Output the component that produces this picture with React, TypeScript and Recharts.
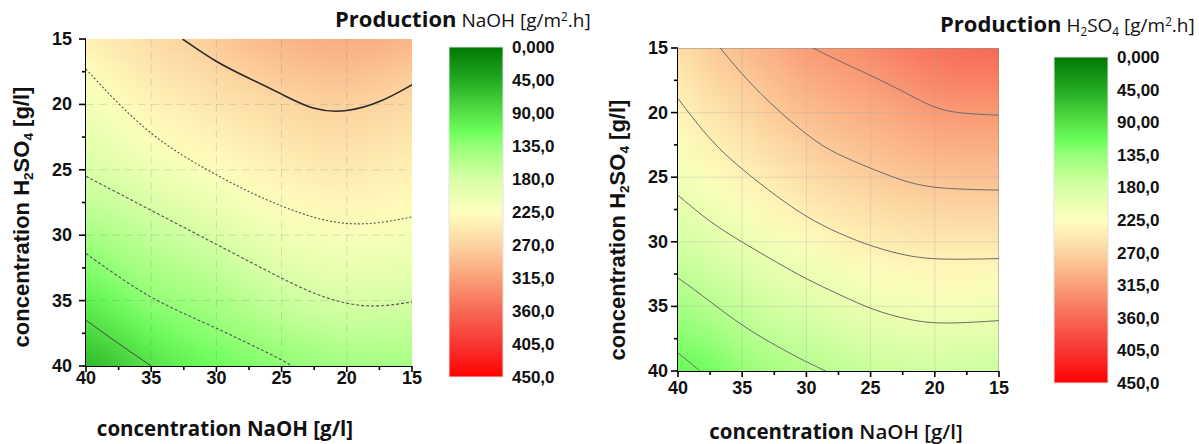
import React from "react";
import { ComposedChart, Scatter, Bar, XAxis, YAxis } from "recharts";

// grid nodes of the response surface (NaOH runs 40 -> 15 left to right)
const NAOH_NODES = [40, 37.5, 35, 32.5, 30, 27.5, 25, 22.5, 20, 17.5, 15];
const H2SO4_NODES = [15, 17.5, 20, 22.5, 25, 27.5, 30, 32.5, 35, 37.5, 40];
const AXIS_TICKS = [15, 17.5, 20, 22.5, 25, 27.5, 30, 32.5, 35, 37.5, 40];
const GRID_LINES = [20, 25, 30, 35];
const SCALE_TICKS = [0, 45, 90, 135, 180, 225, 270, 315, 360, 405, 450];
const SCALE_SPAN = [{ name: "scale", top: 450 }];

// colour scale (value -> colour)
const SCALE_STOPS = [0, 45, 90, 115, 135, 180, 225, 270, 315, 360, 405, 450];
const SCALE_COLORS = [
  "#007800", "#23aa23", "#55e146", "#69ff5a", "#96ff78", "#d7ffa5",
  "#ffffbe", "#fcd4a0", "#faa078", "#f86955", "#f83732", "#ff0000",
];

// NaOH production, one row per H2SO4 node (15 -> 40)
const naohRows = [
  [242, 251, 262, 270, 279, 290, 298, 304, 306, 305, 298],
  [223, 238, 250, 258, 267, 275, 282, 287, 289, 285, 278],
  [210, 224, 238, 245, 252, 259, 265, 271, 273, 269, 263],
  [196, 208, 224, 232, 239, 246, 253, 259, 261, 256, 252],
  [183, 192, 205, 216, 225, 233, 240, 246, 248, 244, 241],
  [166, 174, 185, 195, 205, 217, 227, 232, 235, 232, 230],
  [146, 156, 166, 175, 184, 197, 209, 215, 219, 217, 215],
  [125, 139, 150, 158, 166, 178, 191, 197, 201, 200, 198],
  [103, 118, 134, 141, 149, 160, 172, 179, 184, 182, 181],
  [80, 96, 112, 124, 132, 141, 152, 158, 165, 163, 163],
  [55, 70, 90, 103, 115, 124, 131, 138, 145, 146, 146],
];

// H2SO4 production
const h2so4Rows = [
  [258, 277, 292, 303, 319, 325, 334, 344, 353, 358, 360],
  [246, 265, 278, 291, 304, 312, 319, 328, 337, 341, 342],
  [234, 252, 264, 279, 290, 298, 304, 311, 319, 321, 321],
  [221, 240, 250, 264, 275, 284, 290, 297, 302, 304, 304],
  [207, 223, 236, 248, 260, 269, 276, 282, 286, 287, 287],
  [193, 206, 218, 232, 245, 253, 259, 265, 268, 269, 269],
  [177, 190, 201, 212, 226, 236, 243, 248, 250, 250, 250],
  [162, 174, 185, 194, 204, 213, 223, 229, 231, 231, 230],
  [145, 157, 168, 179, 187, 194, 204, 209, 211, 211, 209],
  [128, 137, 152, 164, 171, 178, 186, 191, 193, 192, 191],
  [110, 118, 134, 147, 155, 163, 170, 174, 176, 175, 173],
];

// contour lines, NaOH panel
const naoh270 = [
  { x: 32.6, y: 15 }, { x: 30, y: 16.8 }, { x: 27.5, y: 18.0 }, { x: 25, y: 19.2 },
  { x: 22.5, y: 20.5 }, { x: 20, y: 20.6 }, { x: 17.5, y: 19.9 }, { x: 15, y: 18.5 },
];
const naoh225 = [
  { x: 40, y: 17.3 }, { x: 37.5, y: 20.0 }, { x: 35, y: 22.3 }, { x: 32.5, y: 24.0 },
  { x: 30, y: 25.4 }, { x: 27.5, y: 26.7 }, { x: 25, y: 27.8 }, { x: 22.5, y: 28.7 },
  { x: 20, y: 29.2 }, { x: 17.5, y: 29.1 }, { x: 15, y: 28.6 },
];
const naoh180 = [
  { x: 40, y: 25.5 }, { x: 37.5, y: 26.8 }, { x: 35, y: 28.1 }, { x: 32.5, y: 29.4 },
  { x: 30, y: 30.7 }, { x: 27.5, y: 32.0 }, { x: 25, y: 33.3 }, { x: 22.5, y: 34.5 },
  { x: 20, y: 35.3 }, { x: 17.5, y: 35.5 }, { x: 15, y: 35.1 },
];
const naoh135 = [
  { x: 40, y: 31.4 }, { x: 37.5, y: 33.2 }, { x: 35, y: 34.8 }, { x: 32.5, y: 36.0 },
  { x: 30, y: 37.1 }, { x: 27.5, y: 38.3 }, { x: 25, y: 39.5 }, { x: 24.2, y: 40 },
];
const naoh90 = [{ x: 40, y: 36.5 }, { x: 37.5, y: 38.3 }, { x: 35, y: 40 }];

// contour lines, H2SO4 panel
const acid320 = [
  { x: 29.5, y: 15 }, { x: 27.9, y: 15.8 }, { x: 24.8, y: 17.2 }, { x: 22.2, y: 18.5 },
  { x: 19.8, y: 19.8 }, { x: 17.5, y: 20.1 }, { x: 15, y: 20.2 },
];
const acid280 = [
  { x: 36.7, y: 15 }, { x: 34.9, y: 17.2 }, { x: 32.3, y: 19.8 }, { x: 29.5, y: 22.1 },
  { x: 27.9, y: 23.1 }, { x: 24.8, y: 24.4 }, { x: 22.2, y: 25.4 }, { x: 19.8, y: 25.9 },
  { x: 15, y: 26.0 },
];
const acid240 = [
  { x: 40, y: 18.9 }, { x: 37.5, y: 22.2 }, { x: 34.9, y: 24.5 }, { x: 32.3, y: 26.5 },
  { x: 30, y: 28.1 }, { x: 27.4, y: 29.4 }, { x: 24.8, y: 30.4 }, { x: 22.2, y: 31.1 },
  { x: 19.8, y: 31.4 }, { x: 15, y: 31.3 },
];
const acid200 = [
  { x: 40, y: 26.4 }, { x: 37.5, y: 28.5 }, { x: 34.9, y: 30.1 }, { x: 32.3, y: 31.6 },
  { x: 30, y: 32.9 }, { x: 27.4, y: 34.1 }, { x: 24.8, y: 35.3 }, { x: 22.2, y: 36.0 },
  { x: 19.8, y: 36.4 }, { x: 15, y: 36.1 },
];
const acid160 = [
  { x: 40, y: 32.8 }, { x: 38.3, y: 34.0 }, { x: 35.2, y: 36.4 }, { x: 32.3, y: 38.1 },
  { x: 30, y: 39.3 }, { x: 28.5, y: 40 },
];
const acid120 = [{ x: 40, y: 38.6 }, { x: 39.0, y: 39.4 }, { x: 38.3, y: 40 }];

type Pt = { x: number; y: number };
type Contour = { points: Pt[]; stroke: string; width: number; dash?: string };

const naohContours: Contour[] = [
  { points: naoh270, stroke: "#2a2a2a", width: 1.6 },
  { points: naoh225, stroke: "#555", width: 1.1, dash: "2 2" },
  { points: naoh180, stroke: "#555", width: 1.1, dash: "3 2" },
  { points: naoh135, stroke: "#555", width: 1.1, dash: "3 2" },
  { points: naoh90, stroke: "#444", width: 1 },
];
const acidContours: Contour[] = [acid320, acid280, acid240, acid200, acid160, acid120].map(
  (points) => ({ points, stroke: "#6a6a6a", width: 1 })
);

const hexRgb = (h: string) => [1, 3, 5].map((i) => parseInt(h.slice(i, i + 2), 16));

function valueColor(v: number) {
  let i = 0;
  while (i < SCALE_STOPS.length - 2 && v > SCALE_STOPS[i + 1]) i++;
  const t = Math.max(0, Math.min(1, (v - SCALE_STOPS[i]) / (SCALE_STOPS[i + 1] - SCALE_STOPS[i])));
  const a = hexRgb(SCALE_COLORS[i]);
  const b = hexRgb(SCALE_COLORS[i + 1]);
  const c = a.map((ch, k) => Math.round(ch + (b[k] - ch) * t));
  return `rgb(${c[0]},${c[1]},${c[2]})`;
}

const toCells = (rows: number[][]) =>
  rows.flatMap((row, i) => row.map((z, j) => ({ x: NAOH_NODES[j], y: H2SO4_NODES[i], z })));

const noMark = () => <g />;

const TICK_FONT = "Arial, 'Liberation Sans', sans-serif";
const Y_AXIS_W = 50;
const X_AXIS_H = 40;
const W = 440;
const H = 444;

interface PanelProps {
  id: string;
  rows: number[][];
  contours: Contour[];
  left: number;
  margin: { top: number; right: number; bottom: number; left: number };
  yLabelGap: number;
  xLabelDrop: number;
  gridStroke: string;
  gridDash?: string;
  frame?: boolean;
}

function ContourPanel({ id, rows, contours, left, margin, yLabelGap, xLabelDrop, gridStroke, gridDash, frame }: PanelProps) {
  const px = margin.left + Y_AXIS_W;
  const py = margin.top;
  const pw = W - px - margin.right;
  const ph = H - py - margin.bottom - X_AXIS_H;
  const cw = pw / (NAOH_NODES.length - 1);
  const ch = ph / (H2SO4_NODES.length - 1);

  const cell = (p: any) => (
    <rect
      x={p.cx - cw / 2 - 0.5}
      y={p.cy - ch / 2 - 0.5}
      width={cw + 1}
      height={ch + 1}
      fill={valueColor(p.payload.z)}
    />
  );

  const yTick = (p: any) => {
    const v = p.payload.value;
    const major = v % 5 === 0;
    return (
      <g>
        <line x1={p.x - (major ? 7 : 4)} x2={p.x} y1={p.y} y2={p.y} stroke="#000" strokeWidth={1.6} />
        {major && (
          <text x={p.x - yLabelGap} y={p.y} textAnchor="end" dominantBaseline="central"
            fontFamily={TICK_FONT} fontWeight="bold" fontSize={18} fill="#111">{v}</text>
        )}
      </g>
    );
  };

  const xTick = (p: any) => {
    const v = p.payload.value;
    const major = v % 5 === 0;
    return (
      <g>
        <line x1={p.x} x2={p.x} y1={p.y} y2={p.y + (major ? 6 : 4)} stroke="#000" strokeWidth={1.6} />
        {major && (
          <text x={p.x} y={p.y + xLabelDrop} textAnchor="middle"
            fontFamily={TICK_FONT} fontWeight="bold" fontSize={18} fill="#111">{v}</text>
        )}
      </g>
    );
  };

  // straight guide lines through the data scales
  const guides: { pts: Pt[]; stroke: string; dash?: string }[] = [
    ...GRID_LINES.map((g) => ({ pts: [{ x: 40, y: g }, { x: 15, y: g }], stroke: gridStroke, dash: gridDash })),
    ...GRID_LINES.map((g) => ({ pts: [{ x: g, y: 15 }, { x: g, y: 40 }], stroke: gridStroke, dash: gridDash })),
  ];
  if (frame) {
    guides.push({ pts: [{ x: 40, y: 15 }, { x: 15, y: 15 }], stroke: "#8a8a8a" });
    guides.push({ pts: [{ x: 15, y: 15 }, { x: 15, y: 40 }], stroke: "#8a8a8a" });
  }

  return (
    <div style={{ position: "absolute", left, top: 0 }}>
      <style>{`.heat-${id} { filter: url(#smooth-${id}); }`}</style>
      <ComposedChart width={W} height={H} margin={margin}>
        <defs>
          <filter id={`smooth-${id}`} filterUnits="userSpaceOnUse" x={px} y={py} width={pw} height={ph}
            colorInterpolationFilters="sRGB">
            <feGaussianBlur stdDeviation={cw * 0.42} />
            <feComponentTransfer>
              <feFuncA type="linear" slope={0} intercept={1} />
            </feComponentTransfer>
          </filter>
        </defs>
        <XAxis type="number" dataKey="x" domain={[15, 40]} reversed allowDataOverflow
          ticks={AXIS_TICKS} interval={0} height={X_AXIS_H} tickSize={0} tickMargin={0}
          tickLine={false} axisLine={{ stroke: "#000", strokeWidth: 2 }} tick={xTick} />
        <YAxis type="number" dataKey="y" domain={[15, 40]} reversed allowDataOverflow
          ticks={AXIS_TICKS} interval={0} width={Y_AXIS_W} tickSize={0} tickMargin={0}
          tickLine={false} axisLine={{ stroke: "#000", strokeWidth: 2 }} tick={yTick} />
        <Scatter className={`heat-${id}`} data={toCells(rows)} shape={cell} isAnimationActive={false} />
        {guides.map((g, i) => (
          <Scatter key={`g${i}`} data={g.pts} shape={noMark} fill="none"
            line={{ stroke: g.stroke, strokeWidth: 1, strokeDasharray: g.dash }}
            isAnimationActive={false} />
        ))}
        {contours.map((c, i) => (
          <Scatter key={`c${i}`} data={c.points} shape={noMark} fill="none" lineJointType="basis"
            line={{ stroke: c.stroke, strokeWidth: c.width, strokeDasharray: c.dash }}
            isAnimationActive={false} />
        ))}
      </ComposedChart>
    </div>
  );
}

const scaleLabel = (v: number) => v.toPrecision(4).replace(".", ",");

function ColorScale({ id, left, top, bottom, barLeft, width }: { id: string; left: number; top: number; bottom: number; barLeft: number; width: number }) {
  const barW = 54;
  const axisW = 95;
  return (
    <div style={{ position: "absolute", left, top: 0 }}>
      <ComposedChart width={width} height={H} data={SCALE_SPAN} barCategoryGap={0}
        margin={{ top, bottom, left: barLeft, right: width - barLeft - barW - axisW }}>
        <defs>
          <linearGradient id={`scale-${id}`} x1="0" y1="0" x2="0" y2="1">
            {SCALE_STOPS.map((s, i) => (
              <stop key={s} offset={s / 450} stopColor={SCALE_COLORS[i]} />
            ))}
          </linearGradient>
        </defs>
        <XAxis type="category" dataKey="name" hide />
        <YAxis type="number" orientation="right" domain={[0, 450]} reversed ticks={SCALE_TICKS}
          interval={0} width={axisW} axisLine={false} tickLine={false} tickSize={0} tickMargin={9}
          tickFormatter={scaleLabel}
          tick={{ fontFamily: TICK_FONT, fontWeight: "bold", fontSize: 17, fill: "#111" }} />
        <Bar dataKey="top" fill={`url(#scale-${id})`} stroke="#e2e2e2" strokeWidth={1}
          isAnimationActive={false} />
      </ComposedChart>
    </div>
  );
}

const sub = { fontSize: "0.62em", verticalAlign: "-0.3em" } as const;
const sup = { fontSize: "0.62em", verticalAlign: "0.55em" } as const;

export default function App() {
  const yLabel: React.CSSProperties = {
    position: "absolute", transform: "translate(-50%, -50%) rotate(-90deg)",
    whiteSpace: "nowrap", fontFamily: TICK_FONT, fontWeight: "bold", fontSize: 22, color: "#111",
    lineHeight: 1,
  };
  const xLabel: React.CSSProperties = {
    position: "absolute", transform: "translate(-50%, -50%)", whiteSpace: "nowrap",
    fontFamily: "'Open Sans', sans-serif", fontWeight: "bold", fontSize: 20.5, color: "#111", lineHeight: 1,
  };
  const title: React.CSSProperties = {
    position: "absolute", whiteSpace: "nowrap", fontFamily: "'Open Sans', sans-serif", color: "#111", lineHeight: 1,
  };
  return (
    <div style={{ position: "absolute", left: 0, top: 0, width: 1199, height: 444, background: "#fff", overflow: "hidden" }}>
      <ContourPanel id="naoh" rows={naohRows} contours={naohContours} left={0}
        margin={{ top: 39, right: 28, bottom: 38, left: 36 }} yLabelGap={14} xLabelDrop={18}
        gridStroke="rgba(110,110,110,0.2)" gridDash="8 5" />
      <ContourPanel id="acid" rows={h2so4Rows} contours={acidContours} left={600}
        margin={{ top: 48, right: 41, bottom: 33, left: 28 }} yLabelGap={10} xLabelDrop={23}
        gridStroke="rgba(170,170,170,0.3)" frame />
      <ColorScale id="naoh" left={440} top={47} bottom={67} barLeft={9} width={160} />
      <ColorScale id="acid" left={1040} top={57} bottom={61} barLeft={14} width={159} />

      <div style={{ ...title, left: 335, top: 7 }}>
        <span style={{ fontWeight: "bold", fontSize: 22 }}>Production</span>
        <span style={{ fontSize: 19 }}> NaOH [g/m<span style={sup}>2</span>.h]</span>
      </div>
      <div style={{ ...title, left: 940, top: 12 }}>
        <span style={{ fontWeight: "bold", fontSize: 22 }}>Production</span>
        <span style={{ fontSize: 19 }}> H<span style={sub}>2</span>SO<span style={sub}>4</span> [g/m<span style={sup}>2</span>.h]</span>
      </div>

      <div style={{ ...yLabel, left: 23, top: 217 }}>
        concentration  H<span style={sub}>2</span>SO<span style={sub}>4</span> [g/l]
      </div>
      <div style={{ ...yLabel, left: 619, top: 230 }}>
        concentration  H<span style={sub}>2</span>SO<span style={sub}>4</span> [g/l]
      </div>
      <div style={{ ...xLabel, left: 225, top: 428 }}>concentration NaOH [g/l]</div>
      <div style={{ ...xLabel, left: 836, top: 431 }}>
        concentration <span style={{ fontWeight: 600 }}>NaOH [g/l]</span>
      </div>
    </div>
  );
}
